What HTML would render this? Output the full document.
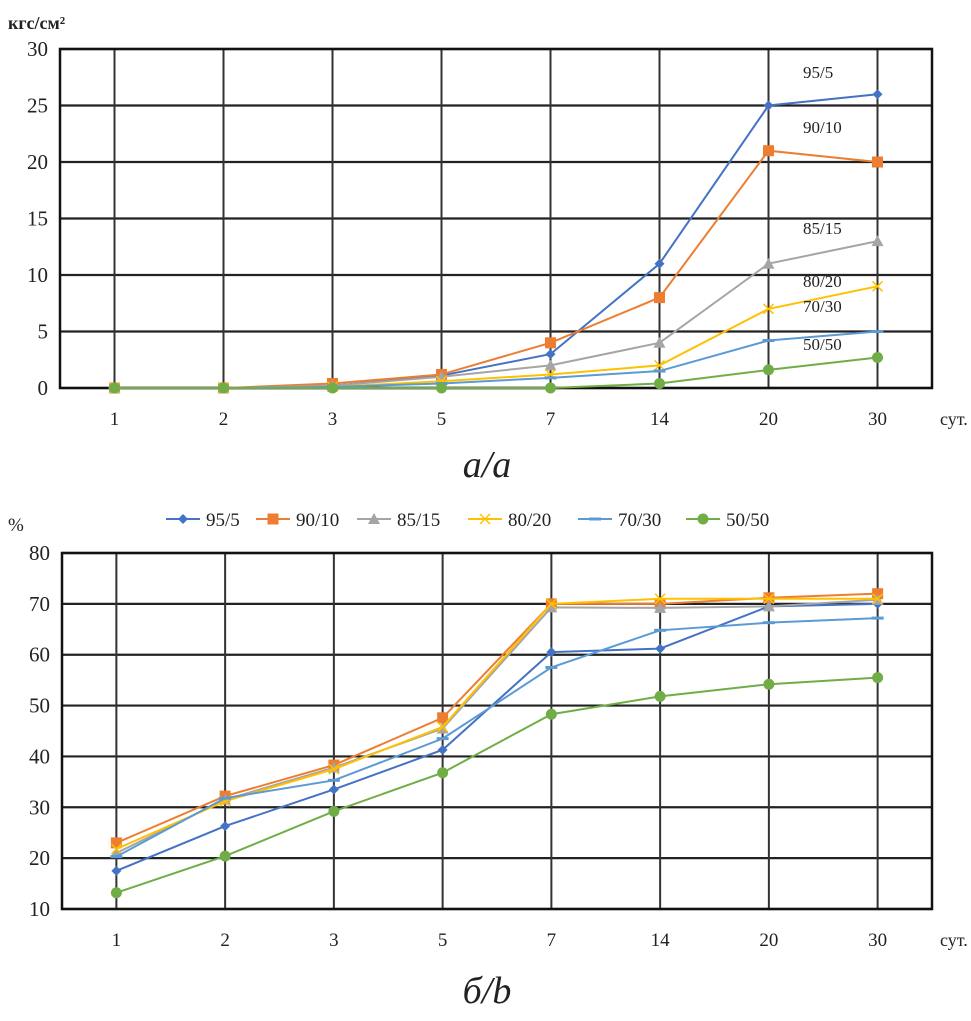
<!DOCTYPE html>
<html><head><meta charset="utf-8"><style>
body{margin:0;background:#fff;}
svg{display:block;font-family:"Liberation Serif",serif;}
</style></head><body>
<svg id="s" width="971" height="1021"></svg>
<script>
const cats=["1","2","3","5","7","14","20","30"];
const names=["95/5","90/10","85/15","80/20","70/30","50/50"];
const colors=["#4472C4","#ED7D31","#A5A5A5","#FFC000","#5B9BD5","#70AD47"];
const markers=["diamond","square","triangle","x","dash","circle"];
const topTicks=[0,5,10,15,20,25,30];
const botTicks=[10,20,30,40,50,60,70,80];
const topS95=[0,0,0.2,1.1,3,11,25,26];
const topS90=[0,0,0.4,1.2,4,8,21,20];
const topS85=[0,0,0.2,1,2,4,11,13];
const topS80=[0,0,0.1,0.6,1.2,2,7,9];
const topS70=[0,0,0.1,0.4,0.9,1.5,4.2,5];
const topS50=[0,0,0,0,0,0.4,1.6,2.7];
const botS95=[17.5,26.3,33.5,41.3,60.5,61.2,69.5,70];
const botS90=[23,32.2,38.3,47.6,70,70,71.2,72];
const botS85=[21,31.5,37.8,45.5,69.3,69.2,69.5,70.8];
const botS80=[21.8,31.2,37.5,45.8,70,71,71,71];
const botS70=[20.3,31.8,35.3,43.5,57.5,64.8,66.3,67.2];
const botS50=[13.2,20.4,29.2,36.8,48.3,51.8,54.2,55.5];
const topLabelY=[78,133,234,287,312,350];
const svg=document.getElementById('s');
const NS="http://www.w3.org/2000/svg";
function mk(t,a,p){const e=document.createElementNS(NS,t);for(const k in a)e.setAttribute(k,a[k]);(p||svg).appendChild(e);return e;}
function chart(cfg){
 const g=mk('g',{});
 
 
 const L=cfg.l,R=cfg.r,T=cfg.t,B=cfg.b,mn=cfg.ticks[0],mx=cfg.ticks[cfg.ticks.length-1];
 const xs=i=>L+(R-L)*(i+0.5)/cats.length;
 const ys=v=>B-(v-mn)/(mx-mn)*(B-T);
 cfg.ticks.forEach(t=>{
  const l=mk('line',{x1:L,x2:R,y1:ys(t),y2:ys(t),stroke:'#222','stroke-width':2.2},g);
  
  const tx=mk('text',{x:L-12,y:ys(t)+7,'text-anchor':'end','font-size':21,fill:'#222'},g);tx.textContent=t;
  
 });
 cats.forEach((c,i)=>{
  const l=mk('line',{x1:xs(i),x2:xs(i),y1:T,y2:B,stroke:'#333','stroke-width':2},g);
  
  const tx=mk('text',{x:xs(i),y:B+37,'text-anchor':'middle','font-size':19,fill:'#222'},g);tx.textContent=c;
  
 });
 const fr=mk('rect',{x:L,y:T,width:R-L,height:B-T,fill:'none',stroke:'#111','stroke-width':2.5},g);
 
 const u=mk('text',{x:R+8,y:B+37,'font-size':18,fill:'#222'},g);u.textContent='сут.';
 
 cfg.series.forEach((s,k)=>{
  const pts=s.map((v,i)=>xs(i)+','+ys(v)).join(' ');
  const pl=mk('polyline',{points:pts,fill:'none',stroke:colors[k],'stroke-width':2},g);
  
  s.forEach((v,i)=>{marker(g,markers[k],xs(i),ys(v),colors[k]);});
 });
}
function marker(g,m,x,y,c){
 let e;
 if(m=='diamond')e=mk('polygon',{points:`${x},${y-5} ${x+5},${y} ${x},${y+5} ${x-5},${y}`,fill:c},g);
 else if(m=='square')e=mk('rect',{x:x-5.5,y:y-5.5,width:11,height:11,fill:c},g);
 else if(m=='triangle')e=mk('polygon',{points:`${x},${y-6} ${x+6},${y+5} ${x-6},${y+5}`,fill:c},g);
 else if(m=='x')e=mk('path',{d:`M${x-5} ${y-5}L${x+5} ${y+5}M${x+5} ${y-5}L${x-5} ${y+5}`,stroke:c,'stroke-width':1.5},g);
 else if(m=='dash')e=mk('line',{x1:x-6,x2:x+6,y1:y,y2:y,stroke:c,'stroke-width':3},g);
 else e=mk('circle',{cx:x,cy:y,r:5.5,fill:c},g);
 
}
chart({name:'chart-a',l:60,r:932,t:49,b:388,ticks:topTicks,series:[topS95,topS90,topS85,topS80,topS70,topS50]});
chart({name:'chart-b',l:62,r:932,t:553,b:909,ticks:botTicks,series:[botS95,botS90,botS85,botS80,botS70,botS50]});
names.forEach((n,k)=>{
 const t=mk('text',{x:803,y:topLabelY[k],'font-size':17,fill:'#222'});t.textContent=n;
 
});
let t=mk('text',{x:8,y:29,'font-size':18,'font-weight':'bold',fill:'#222'});t.textContent='кгс/см²';

t=mk('text',{x:8,y:531,'font-size':19,fill:'#222'});t.textContent='%';

t=mk('text',{x:487,y:477,'font-size':38,'font-style':'italic','text-anchor':'middle',fill:'#222'});t.textContent='а/a';

t=mk('text',{x:487,y:1003,'font-size':38,'font-style':'italic','text-anchor':'middle',fill:'#222'});t.textContent='б/b';

const legX=[166,256,357,468,578,686];
names.forEach((n,k)=>{
 const lg=mk('g',{});
 
 mk('line',{x1:legX[k],x2:legX[k]+34,y1:519,y2:519,stroke:colors[k],'stroke-width':2},lg);
 marker(lg,markers[k],legX[k]+17,519,colors[k]);
 const tx=mk('text',{x:legX[k]+40,y:526,'font-size':19,fill:'#222'},lg);tx.textContent=n;
});
</script>
</body></html>
